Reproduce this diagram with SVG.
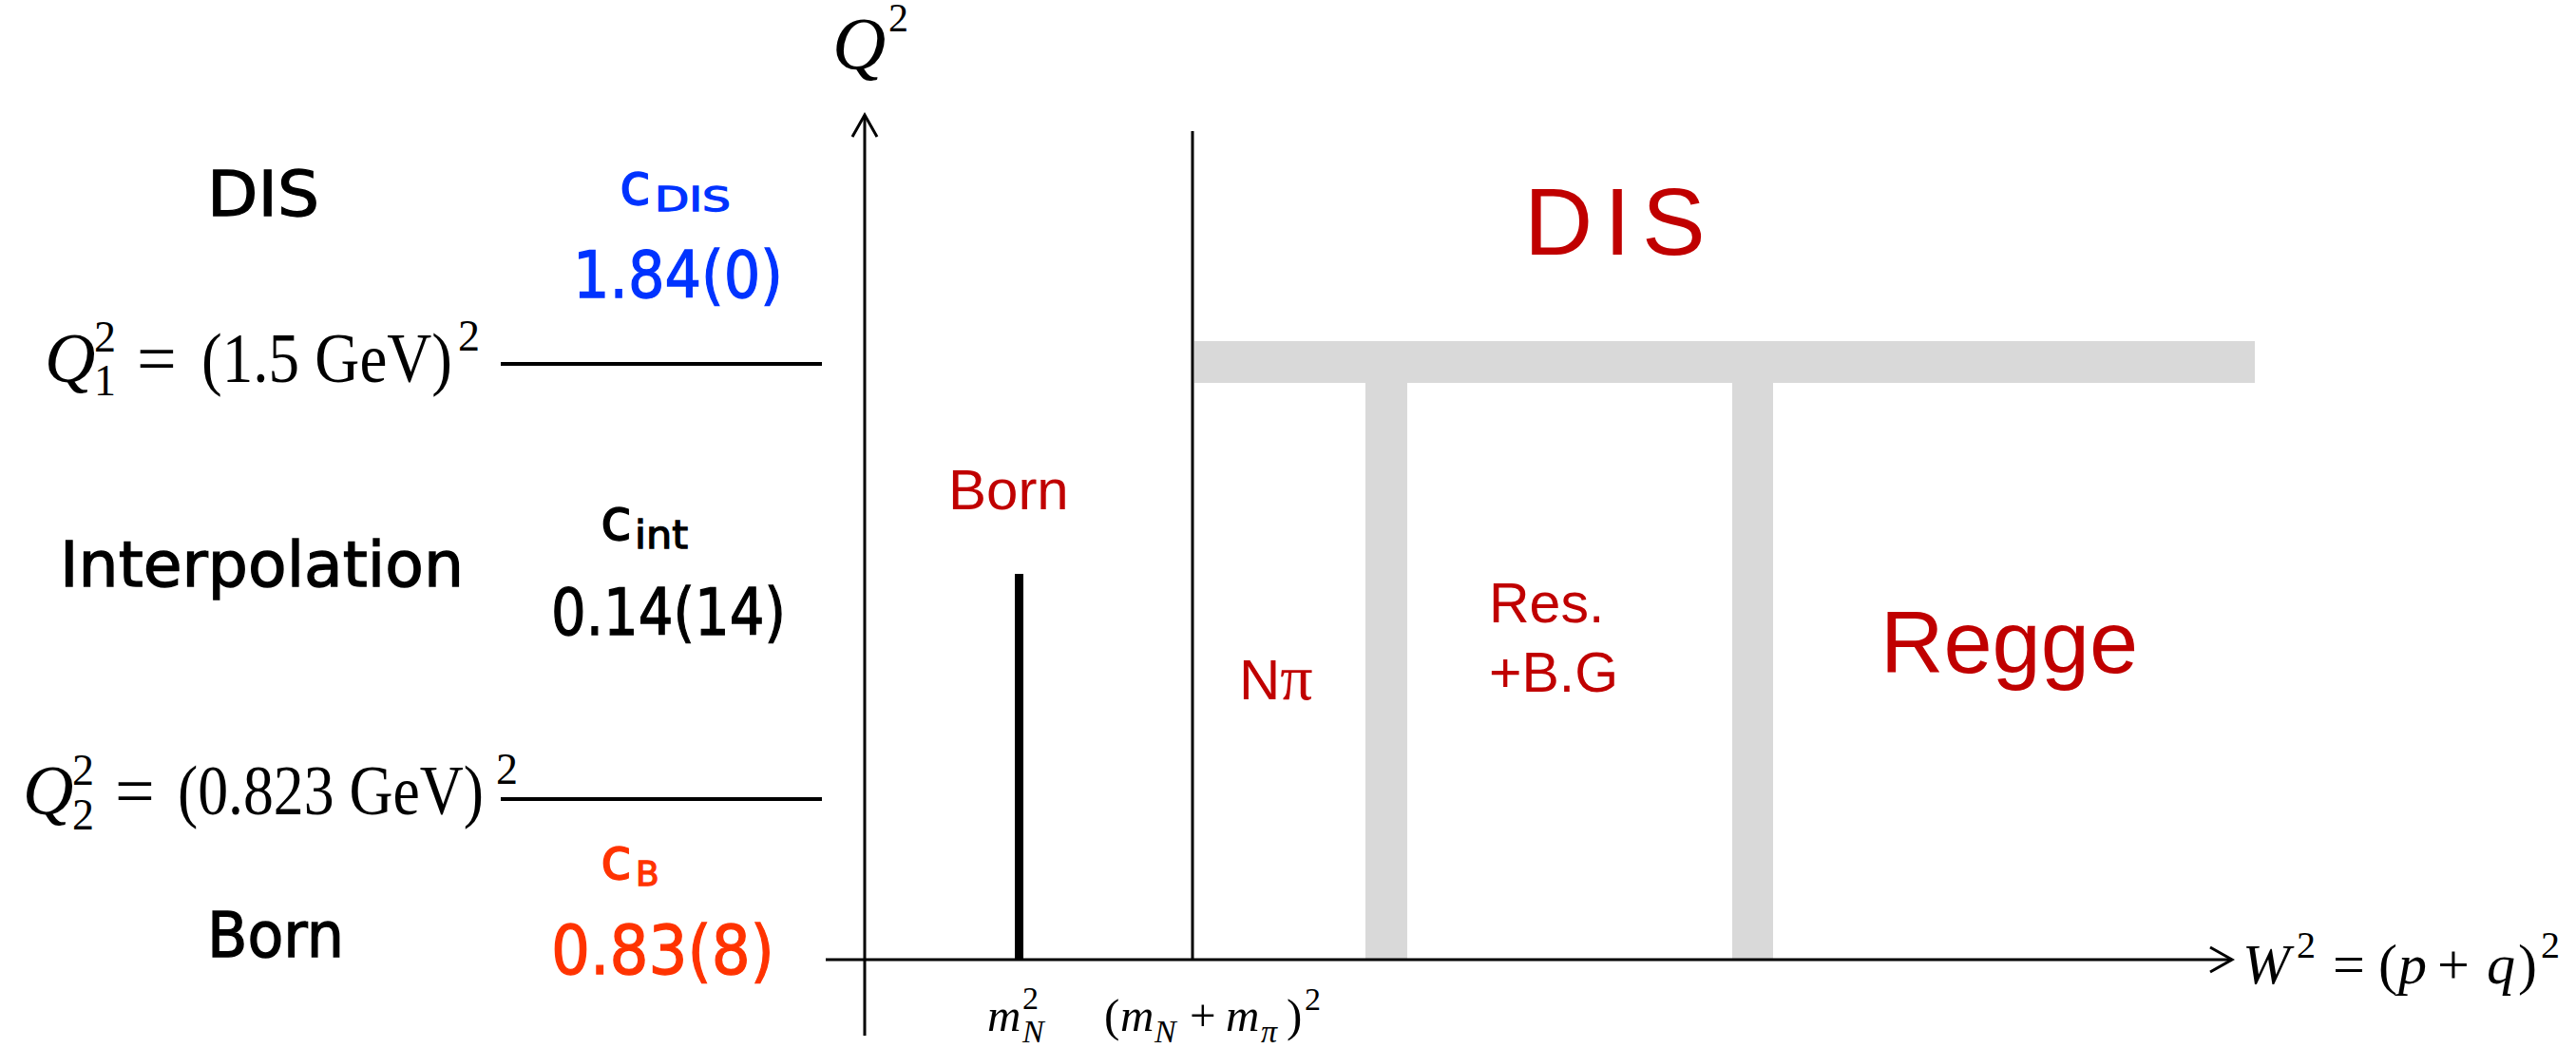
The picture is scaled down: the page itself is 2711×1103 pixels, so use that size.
<svg xmlns="http://www.w3.org/2000/svg" width="2711" height="1103" viewBox="0 0 2711 1103">
<style>
.comic{font-family:"DejaVu Sans",sans-serif;stroke-width:1.3;}
.math{font-family:"Liberation Serif","DejaVu Serif",serif;fill:#000;}
.it{font-style:italic;}
.reg{font-family:"Liberation Sans",Arial,sans-serif;fill:#C00000;}
.blue{fill:#0033FF;stroke:#0033FF;}
.orange{fill:#FF3300;stroke:#FF3300;}
.black{fill:#000;stroke:#000;}
.grey{fill:#D9D9D9;}
.ax{stroke:#000;stroke-width:3;fill:none;}
</style>
<defs>
<marker id="arr" markerUnits="userSpaceOnUse" viewBox="0 0 28 30" markerWidth="28" markerHeight="30" refX="25" refY="15" orient="auto">
<path d="M2,2 L25,15 L2,28" fill="none" stroke="#000" stroke-width="3"/>
</marker>
</defs>
<rect width="2711" height="1103" fill="#fff"/>

<g id="regions">
<rect class="grey" x="1257" y="359" width="1116" height="44"/>
<rect class="grey" x="1437" y="403" width="44" height="606"/>
<rect class="grey" x="1823" y="403" width="43" height="606"/>
</g>

<g id="connectors">
<line class="ax" x1="910" y1="1090" x2="910" y2="121" marker-end="url(#arr)"/>
<line class="ax" x1="869" y1="1010" x2="2349" y2="1010" marker-end="url(#arr)"/>
<line class="ax" x1="1255" y1="138" x2="1255" y2="1010"/>
<line stroke="#000" stroke-width="4" x1="527" y1="383" x2="865" y2="383"/>
<line stroke="#000" stroke-width="4" x1="527" y1="841" x2="865" y2="841"/>
<rect x="1068" y="604" width="9" height="406" fill="#000"/>
</g>

<g id="label-dis-left"><text class="comic black" x="218" y="227" font-size="66" textLength="118" lengthAdjust="spacingAndGlyphs">DIS</text></g>
<g id="label-interp"><text class="comic black" x="63" y="617" font-size="66" textLength="425" lengthAdjust="spacingAndGlyphs">Interpolation</text></g>
<g id="label-born-left"><text class="comic black" x="218" y="1007" font-size="66" textLength="144" lengthAdjust="spacingAndGlyphs">Born</text></g>

<g id="c-dis">
<text class="comic blue" x="652" y="215" font-size="60">c</text>
<text class="comic blue" x="689" y="222" font-size="36" textLength="80" lengthAdjust="spacingAndGlyphs">DIS</text>
<text class="comic blue" x="603" y="313" font-size="68" textLength="221" lengthAdjust="spacingAndGlyphs">1.84(0)</text>
</g>
<g id="c-int">
<text class="comic black" x="632" y="568" font-size="60">c</text>
<text class="comic black" x="668" y="577" font-size="40" textLength="56" lengthAdjust="spacingAndGlyphs">int</text>
<text class="comic black" x="580" y="668" font-size="68" textLength="247" lengthAdjust="spacingAndGlyphs">0.14(14)</text>
</g>
<g id="c-b">
<text class="comic orange" x="632" y="925" font-size="60">c</text>
<text class="comic orange" x="669" y="932" font-size="36">B</text>
<text class="comic orange" x="580" y="1025" font-size="72" textLength="235" lengthAdjust="spacingAndGlyphs">0.83(8)</text>
</g>

<g id="q1">
<text class="math" font-size="74"><tspan class="it" x="47" y="402">Q</tspan><tspan x="99" y="370" font-size="46">2</tspan><tspan x="99" y="416" font-size="46">1</tspan><tspan x="144" y="402">=</tspan><tspan x="212" y="402" textLength="264" lengthAdjust="spacingAndGlyphs">(1.5 GeV)</tspan><tspan x="482" y="369" font-size="46">2</tspan></text>
</g>
<g id="q2">
<text class="math" font-size="74"><tspan class="it" x="24" y="857">Q</tspan><tspan x="76" y="826" font-size="46">2</tspan><tspan x="76" y="873" font-size="46">2</tspan><tspan x="121" y="857">=</tspan><tspan x="187" y="857" textLength="322" lengthAdjust="spacingAndGlyphs">(0.823 GeV)</tspan><tspan x="522" y="825" font-size="46">2</tspan></text>
</g>

<g id="q-axis-label">
<text class="math" font-size="78"><tspan class="it" x="876" y="72">Q</tspan><tspan x="935" y="33" font-size="42">2</tspan></text>
</g>
<g id="w-axis-label">
<text class="math" font-size="60"><tspan class="it" x="2360" y="1035">W</tspan><tspan x="2417" y="1008" font-size="40">2</tspan><tspan x="2455" y="1035">=</tspan><tspan x="2503" y="1035">(</tspan><tspan class="it" x="2524" y="1035">p</tspan><tspan x="2565" y="1035">+</tspan><tspan class="it" x="2617" y="1035">q</tspan><tspan x="2650" y="1035">)</tspan><tspan x="2674" y="1008" font-size="40">2</tspan></text>
</g>
<g id="tick-mn">
<text class="math" font-size="49"><tspan class="it" x="1039" y="1085">m</tspan><tspan x="1076" y="1062" font-size="34">2</tspan><tspan class="it" x="1076" y="1097" font-size="34">N</tspan></text>
</g>
<g id="tick-mnpi">
<text class="math" font-size="49"><tspan x="1162" y="1085">(</tspan><tspan class="it" x="1179" y="1085">m</tspan><tspan class="it" x="1215" y="1097" font-size="34">N</tspan><tspan x="1252" y="1085">+</tspan><tspan class="it" x="1290" y="1085">m</tspan><tspan class="it" x="1327" y="1097" font-size="34">π</tspan><tspan x="1354" y="1085">)</tspan><tspan x="1373" y="1063" font-size="34">2</tspan></text>
</g>

<g id="region-dis"><text class="reg" x="1604" y="268" font-size="100" letter-spacing="12">DIS</text></g>
<g id="region-born"><text class="reg" x="998" y="536" font-size="60">Born</text></g>
<g id="region-npi"><text class="reg" x="1304" y="736" font-size="60">N<tspan font-family="Liberation Serif,serif" font-size="68">π</tspan></text></g>
<g id="region-res"><text class="reg" font-size="59"><tspan x="1567" y="655">Res.</tspan><tspan x="1567" y="728">+B.G</tspan></text></g>
<g id="region-regge"><text class="reg" x="1979" y="708" font-size="92">Regge</text></g>
</svg>
